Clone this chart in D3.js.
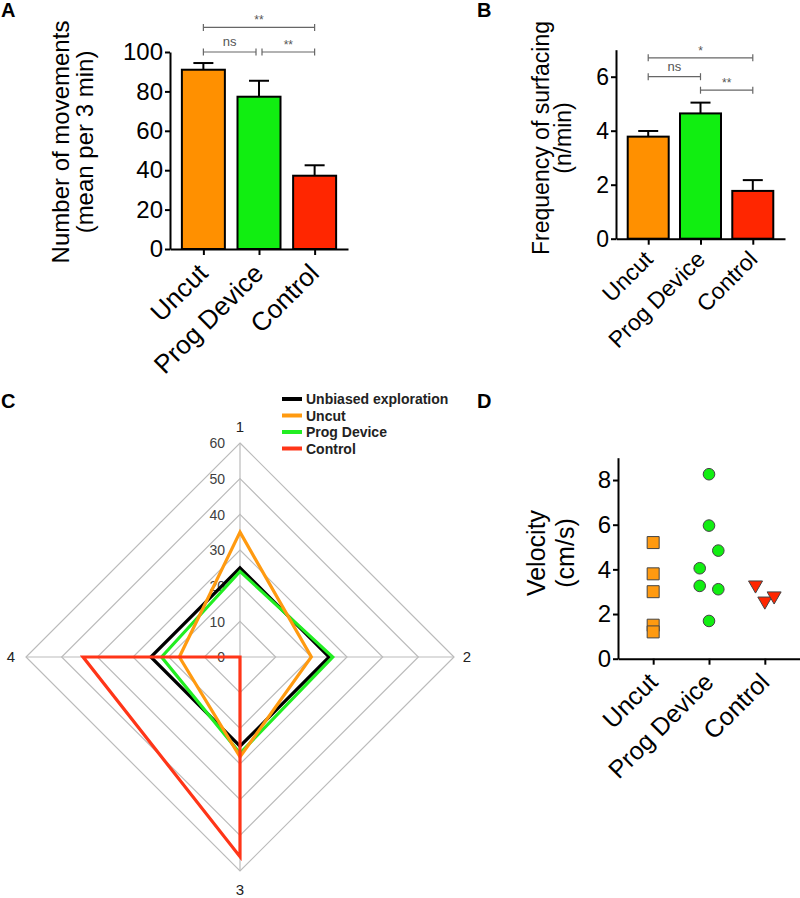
<!DOCTYPE html>
<html><head><meta charset="utf-8">
<script src="https://cdn.jsdelivr.net/npm/d3@7"></script>
<style>
body{margin:0;background:#fff}
svg{display:block}
</style>
</head><body>
<svg width="800" height="898"></svg>
<script>
// ---------------- DATA ----------------
const groups = ["Uncut", "Prog Device", "Control"];
// Panel A
const movementsMean = [91, 77.3, 37.2];
const movementsErr = [3.4, 8.1, 5.3];
const movementsTicks = [0, 20, 40, 60, 80, 100];
const movementsSig = [
  {from: 0, to: 2, label: "**", level: 112.5},
  {from: 0, to: 1, label: "ns", level: 100},
  {from: 1, to: 2, label: "**", level: 100}
];
// Panel B
const surfacingMean = [3.78, 4.64, 1.77];
const surfacingErr = [0.21, 0.40, 0.40];
const surfacingTicks = [0, 2, 4, 6];
const surfacingSig = [
  {from: 0, to: 2, label: "*", level: 6.7},
  {from: 0, to: 1, label: "ns", level: 6.0},
  {from: 1, to: 2, label: "**", level: 5.5}
];
// Panel C (radar)
const radarAxes = ["1", "2", "3", "4"];
const radarTicks = [0, 10, 20, 30, 40, 50, 60];
const radarSeries = ["Unbiased exploration", "Uncut", "Prog Device", "Control"];
const radarUnbiased = [25, 25, 25, 25];
const radarUncut = [35, 20, 28, 17];
const radarProg = [24, 26, 27, 22];
const radarControl = [0, 0, 56, 44];
// Panel D
const velocityUncut = [5.2, 3.8, 3.0, 1.5, 1.2];
const velocityProg = [8.26, 5.96, 4.84, 4.05, 3.26, 3.11, 1.69];
const velocityControl = [3.3, 2.58, 2.81];
const spreadUncut = [0, 0, 0, 0, 0];
const spreadProg = [0, 0, 1, -1, -1, 1, 0];
const spreadControl = [-1, 0, 1];
const velocityTicks = [0, 2, 4, 6, 8];

// ---------------- STYLE ----------------
const FONT = "'Liberation Sans', Arial, Helvetica, sans-serif";
const barColors = ["#FF9000", "#11EE11", "#FF2600"];
const radarColors = ["#000000", "#FF9A10", "#22EE22", "#FF3518"];
const svg = d3.select("svg").attr("font-family", FONT);

function styleAxis(g, fs) {
  g.selectAll(".domain").attr("stroke", "#000").attr("stroke-width", 2);
  g.selectAll(".tick line").attr("stroke", "#000").attr("stroke-width", 2);
  g.selectAll(".tick text").attr("font-size", fs).attr("font-family", FONT).attr("fill", "#000");
}

function panelLetter(x, y, t) {
  svg.append("text").attr("x", x).attr("y", y).attr("font-size", 20)
    .attr("font-weight", "bold").text(t);
}

function yTitle(lines, xs, cy, fs) {
  lines.forEach((l, i) => {
    svg.append("text").attr("transform", `translate(${xs[i]},${cy}) rotate(-90)`)
      .attr("text-anchor", "middle").attr("font-size", fs).text(l);
  });
}

function xLabels(x, y0, fs, dy) {
  groups.forEach(g => {
    svg.append("text").attr("transform", `translate(${x(g) + 6},${y0 + dy}) rotate(-45)`)
      .attr("text-anchor", "end").attr("font-size", fs).text(g);
  });
}

function barPanel(o) {
  const {x, y, mean, err, ticks, sig, bw, fs, lfs, ldy} = o;
  const y0 = y(0);
  // bars
  svg.append("g").selectAll("rect").data(mean).join("rect")
    .attr("x", (d, i) => x(groups[i]) - bw / 2)
    .attr("y", d => y(d))
    .attr("width", bw)
    .attr("height", d => y0 - y(d))
    .attr("fill", (d, i) => barColors[i])
    .attr("stroke", "#000").attr("stroke-width", 2);
  // error bars
  const eg = svg.append("g").attr("stroke", "#000").attr("stroke-width", 2);
  mean.forEach((m, i) => {
    const cx = x(groups[i]);
    eg.append("line").attr("x1", cx).attr("x2", cx).attr("y1", y(m)).attr("y2", y(m + err[i]));
    eg.append("line").attr("x1", cx - 10).attr("x2", cx + 10).attr("y1", y(m + err[i])).attr("y2", y(m + err[i]));
  });
  // axes
  const xr = x.range();
  const ya = svg.append("g").attr("transform", `translate(${xr[0]},0)`)
    .call(d3.axisLeft(y).tickValues(ticks).tickFormat(d3.format("d")).tickSize(5).tickPadding(2).tickSizeOuter(0));
  styleAxis(ya, fs);
  const xa = svg.append("g").attr("transform", `translate(0,${y0})`)
    .call(d3.axisBottom(x).tickSize(6).tickSizeOuter(0).tickFormat(""));
  styleAxis(xa, fs);
  xLabels(x, y0, lfs, ldy);
  // significance brackets
  const sg = svg.append("g");
  sig.forEach(s => {
    const shared = sig.filter(t => t !== s && t.level === s.level);
    let x1 = x(groups[s.from]), x2 = x(groups[s.to]);
    if (shared.some(t => t.to === s.from)) x1 += 3;
    if (shared.some(t => t.from === s.to)) x2 -= 3;
    const yy = y(s.level);
    sg.append("line").attr("x1", x1).attr("x2", x2).attr("y1", yy).attr("y2", yy)
      .attr("stroke", "#666").attr("stroke-width", 1.2);
    [x1, x2].forEach(xx => sg.append("line").attr("x1", xx).attr("x2", xx)
      .attr("y1", yy - 3.5).attr("y2", yy + 3.5).attr("stroke", "#666").attr("stroke-width", 1.2));
    sg.append("text").attr("x", (x1 + x2) / 2).attr("y", yy - (s.label === "ns" ? 6 : 3))
      .attr("text-anchor", "middle").attr("font-size", s.label === "ns" ? 13 : 12)
      .attr("fill", "#555").text(s.label);
  });
}

// ---------------- PANEL A ----------------
panelLetter(1, 17, "A");
const yA = d3.scaleLinear().domain([0, 100]).range([249, 52]);
const xA = d3.scalePoint().domain(groups).range([170, 348]).padding(0.6);
barPanel({x: xA, y: yA, mean: movementsMean, err: movementsErr, ticks: movementsTicks, sig: movementsSig, bw: 43, fs: 24, lfs: 26, ldy: 26});
yTitle(["Number of movements", "(mean per 3 min)"], [69, 93], 142, 24);

// ---------------- PANEL B ----------------
panelLetter(477, 17, "B");
const yB = d3.scaleLinear().domain([0, 7]).range([238.7, 49.7]);
const xB = d3.scalePoint().domain(groups).range([616, 785]).padding(0.616);
barPanel({x: xB, y: yB, mean: surfacingMean, err: surfacingErr, ticks: surfacingTicks, sig: surfacingSig, bw: 41, fs: 23, lfs: 23, ldy: 22});
yTitle(["Frequency of surfacing", "(n/min)"], [549, 571], 138, 23);

// ---------------- PANEL C ----------------
panelLetter(1, 408, "C");
const cx = 240, cy = 657, R = 214;
const rC = d3.scaleLinear().domain([0, 60]).range([0, R]);
const ang = i => -Math.PI / 2 + i * Math.PI / 2;
const pt = (i, v) => [cx + rC(v) * Math.cos(ang(i)), cy + rC(v) * Math.sin(ang(i))];
const grid = svg.append("g").attr("stroke", "#BBBBBB").attr("stroke-width", 1.2).attr("fill", "none");
radarTicks.filter(t => t > 0).forEach(t => {
  grid.append("path").attr("d", d3.line().curve(d3.curveLinearClosed)(radarAxes.map((a, i) => pt(i, t))));
});
radarAxes.forEach((a, i) => {
  const p = pt(i, 60);
  grid.append("line").attr("x1", cx).attr("y1", cy).attr("x2", p[0]).attr("y2", p[1]);
});
// tick labels along axis 1
radarTicks.forEach(t => {
  svg.append("text").attr("x", cx - 15).attr("y", pt(0, t)[1]).attr("dy", "0.38em")
    .attr("text-anchor", "end").attr("font-size", 14).attr("fill", "#404040").text(t);
});
// axis labels
radarAxes.forEach((a, i) => {
  const p = pt(i, 60);
  const off = [[0, -16], [13, 0], [0, 19], [-15, 0]][i];
  svg.append("text").attr("x", p[0] + off[0]).attr("y", p[1] + off[1]).attr("dy", "0.35em")
    .attr("text-anchor", "middle").attr("font-size", 15).attr("fill", "#222").text(a);
});
const radarData = [radarUnbiased, radarUncut, radarProg, radarControl];
[0, 2, 1, 3].forEach(k => {
  svg.append("path")
    .attr("d", d3.line().curve(d3.curveLinearClosed)(radarData[k].map((v, i) => pt(i, v))))
    .attr("fill", "none").attr("stroke", radarColors[k]).attr("stroke-width", 3.2)
    .attr("stroke-linejoin", "miter");
});
// legend
radarSeries.forEach((s, k) => {
  const ly = 399 + k * 16.5;
  svg.append("line").attr("x1", 282).attr("x2", 302).attr("y1", ly).attr("y2", ly)
    .attr("stroke", radarColors[k]).attr("stroke-width", 4);
  svg.append("text").attr("x", 306).attr("y", ly).attr("dy", "0.36em")
    .attr("font-size", 14).attr("font-weight", "bold").attr("fill", "#222").text(s);
});

// ---------------- PANEL D ----------------
panelLetter(477, 408, "D");
const yD = d3.scaleLinear().domain([0, 9]).range([658.7, 457.7]);
const xD = d3.scalePoint().domain(groups).range([618, 800]).padding(0.63);
const spreadStep = 9.3;
const ya = svg.append("g").attr("transform", "translate(618,0)")
  .call(d3.axisLeft(yD).tickValues(velocityTicks).tickFormat(d3.format("d")).tickSize(5).tickPadding(2).tickSizeOuter(0));
styleAxis(ya, 24);
const xa = svg.append("g").attr("transform", `translate(0,${yD(0)})`)
  .call(d3.axisBottom(xD).tickSize(6).tickSizeOuter(0).tickFormat(""));
styleAxis(xa, 24);
xLabels(xD, yD(0), 25, 25);
yTitle(["Velocity", "(cm/s)"], [545, 574], 553, 25);

const gD = svg.append("g").attr("stroke", "#444").attr("stroke-width", 1);
velocityUncut.forEach((v, i) => {
  gD.append("path").attr("d", d3.symbol(d3.symbolSquare, 144)())
    .attr("transform", `translate(${xD(groups[0]) + spreadUncut[i] * spreadStep},${yD(v)})`)
    .attr("fill", "#FF9A10");
});
velocityProg.forEach((v, i) => {
  gD.append("circle").attr("cx", xD(groups[1]) + spreadProg[i] * spreadStep).attr("cy", yD(v))
    .attr("r", 5.8).attr("fill", "#11EE11");
});
velocityControl.forEach((v, i) => {
  gD.append("path").attr("d", d3.symbol(d3.symbolTriangle, 85)())
    .attr("transform", `translate(${xD(groups[2]) + spreadControl[i] * spreadStep},${yD(v)}) rotate(180)`)
    .attr("fill", "#FF2600");
});
</script>
</body></html>
